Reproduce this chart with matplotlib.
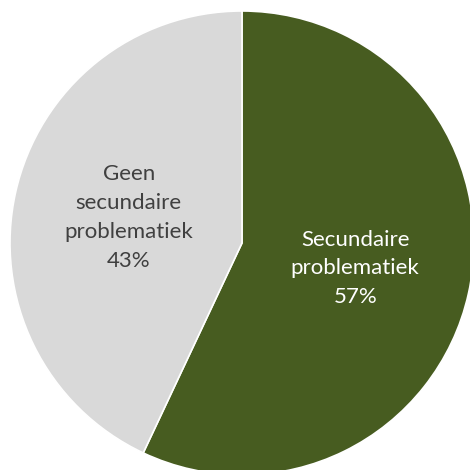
import matplotlib.pyplot as plt

# pie data
categories = ["Secundaire\nproblematiek", "Geen\nsecundaire\nproblematiek"]
values = [57, 43]
colors = ["#475C20", "#D9D9D9"]
text_colors = ["white", "#404040"]

fig = plt.figure(figsize=(4.7, 4.7), dpi=100)
ax = fig.add_axes([0, 0, 1, 1])

labels = [f"{c}\n{v}%" for c, v in zip(categories, values)]
wedges, texts = ax.pie(values, labels=labels, colors=colors, startangle=90,
                       counterclock=False, labeldistance=0.5,
                       wedgeprops=dict(edgecolor="white", linewidth=1.2),
                       textprops=dict(fontsize=16, family=["Lato", "DejaVu Sans"]))
for t, c in zip(texts, text_colors):
    t.set_ha("center")
    t.set_va("center")
    t.set_multialignment("center")
    t.set_color(c)
    t.set_linespacing(1.55)

# circle centre at (242, 243) px, radius 232 px
r = 232.0
ax.set_xlim(-242 / r, (470 - 242) / r)
ax.set_ylim(-(470 - 243) / r, 243 / r)
ax.set_aspect("auto")
ax.axis("off")

fig.savefig("out.png", dpi=100)
